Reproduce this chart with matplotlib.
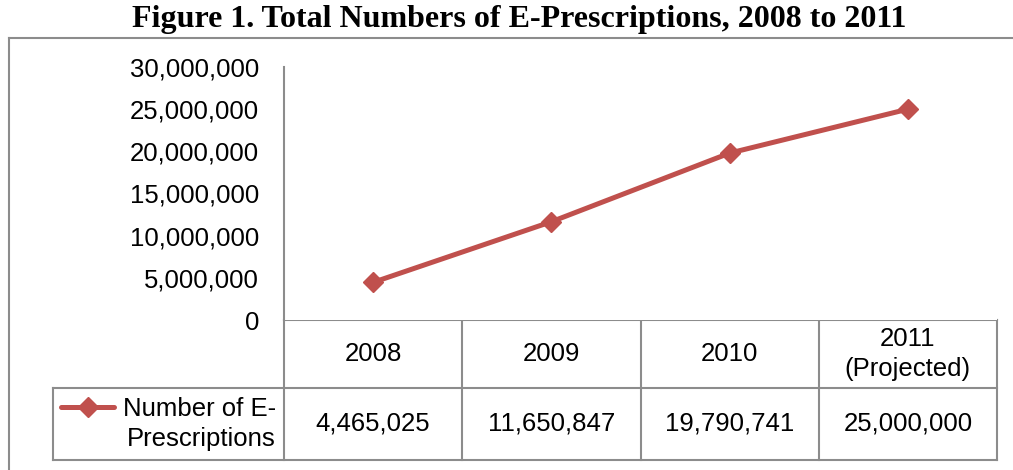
import numpy as np
import matplotlib

matplotlib.use("Agg")
import matplotlib.pyplot as plt
from matplotlib.lines import Line2D

years = ["2008", "2009", "2010", "2011\n(Projected)"]
prescriptions = [4465025, 11650847, 19790741, 25000000]
series_name = "Number of E-\nPrescriptions"
y_ticks = [0, 5000000, 10000000, 15000000, 20000000, 25000000, 30000000]
title = "Figure 1. Total Numbers of E-Prescriptions, 2008 to 2011"

RED = "#C0504D"
GRID = "#8C8C8C"
W, H = 1013, 470

fig = plt.figure(figsize=(W / 100, H / 100), dpi=100)
plt.rcParams["font.family"] = ["Liberation Sans", "DejaVu Sans"]


def px_box(left, top, right, bottom):
    return [left / W, 1 - bottom / H, (right - left) / W, (bottom - top) / H]


# plot area in pixel terms
p_left, p_top, p_right, p_bottom = 284, 67, 997, 320
row1_bottom, row2_bottom = 388, 460
legend_left = 53

ax = fig.add_axes(px_box(p_left, p_top, p_right, p_bottom))
x = np.arange(len(years))
ax.plot(x, prescriptions, color=RED, lw=3.6, marker="D", ms=10,
        solid_capstyle="round", clip_on=False)
ax.set_xlim(-0.5, len(years) - 0.5)
ax.set_ylim(y_ticks[0], y_ticks[-1])
ax.set_yticks(y_ticks)
ax.set_yticklabels([f"{v:,}" for v in y_ticks], fontsize=18.5)
ax.tick_params(axis="y", length=0, pad=18)
ax.set_xticks([])
for s in ["top", "right", "bottom"]:
    ax.spines[s].set_visible(False)
ax.spines["left"].set_color(GRID)
ax.spines["left"].set_linewidth(1.5)

# overlay in pixel coordinates for frame and data table
ov = fig.add_axes([0, 0, 1, 1], zorder=-1)
ov.set_xlim(0, W)
ov.set_ylim(H, 0)
ov.axis("off")


def seg(x0, y0, x1, y1):
    ov.add_line(Line2D([x0, x1], [y0, y1], color=GRID, lw=1.5))


# outer chart border
seg(8.5, 38, 8.5, H)
seg(8.5, 38, W, 38)

col_w = (p_right - p_left) / len(years)
edges = [p_left + i * col_w for i in range(len(years) + 1)]

# table grid
seg(p_left, p_bottom, p_right, p_bottom)
seg(legend_left, row1_bottom, p_right, row1_bottom)
seg(legend_left, row2_bottom, p_right, row2_bottom)
seg(legend_left, row1_bottom, legend_left, row2_bottom)
for i, e in enumerate(edges):
    seg(e, p_bottom, e, row2_bottom)

for i, (yr, val) in enumerate(zip(years, prescriptions)):
    cx = (edges[i] + edges[i + 1]) / 2
    ov.text(cx, (p_bottom + row1_bottom) / 2, yr, ha="center", va="center",
            fontsize=18.5, linespacing=1.3)
    ov.text(cx, (row1_bottom + row2_bottom) / 2, f"{val:,}", ha="center",
            va="center", fontsize=18.5)

# legend key inside the table
ov.add_line(Line2D([61, 114], [407, 407], color=RED, lw=3.6,
                   solid_capstyle="round"))
ov.plot([87.5], [407], marker="D", ms=10, color=RED)
ov.text(p_left - 8, (row1_bottom + row2_bottom) / 2, series_name,
        ha="right", va="center", fontsize=18.5, linespacing=1.3)

fig.text(519 / W, 1 - 19 / H, title, ha="center", va="center",
         fontsize=23, fontweight="bold", family=["Liberation Serif", "DejaVu Serif"])

fig.savefig("out.png", dpi=100)
